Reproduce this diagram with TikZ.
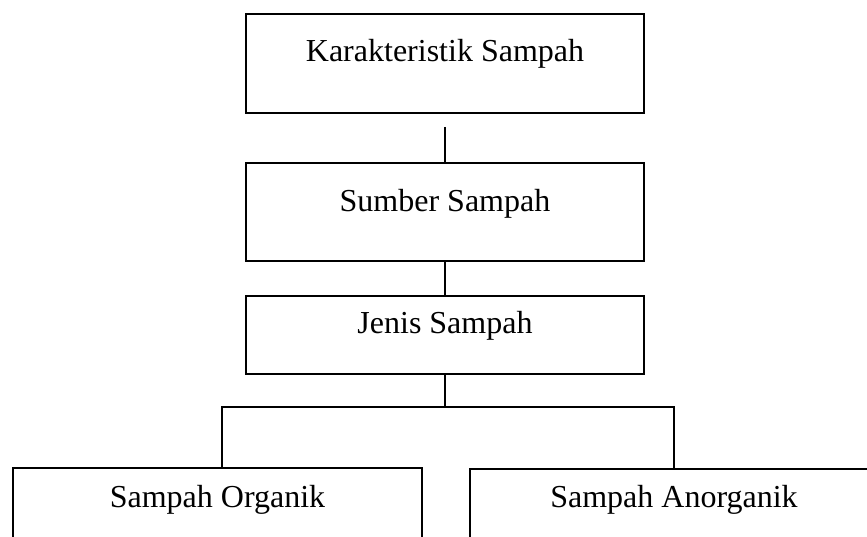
\documentclass[tikz,border=0pt]{standalone}
\usepackage{fontspec}
\setmainfont{Liberation Serif}
\usepackage{tikz}

\begin{document}
\begin{tikzpicture}[
      x=1pt, y=-1pt,
      box/.style={draw,line width=1.6pt,rectangle,anchor=base,inner sep=0pt,
        font=\fontsize{32}{38}\selectfont},
      conn/.style={line width=2pt}
      ]
      \clip (0,0) rectangle (867,537);
      \node[box,minimum width=398pt,text height=48pt,text depth=51pt] (karakteristik) at (445,62) {Karakteristik Sampah};
      \node[box,minimum width=398pt,text height=49pt,text depth=49pt] (sumber) at (445,212) {Sumber Sampah};
      \node[box,minimum width=398pt,text height=37pt,text depth=41pt] (jenis) at (445,333) {Jenis Sampah};
      \node[box,minimum width=409pt,text height=39pt,text depth=90pt] (organik) at (217.5,507) {Sampah Organik};
      \node[box,minimum width=408pt,text height=38pt,text depth=90pt] (anorganik) at (674,507) {Sampah Anorganik};
      \coordinate (split) at (445,407);
      \draw[conn,shorten <=13pt] (karakteristik) -- (sumber);
      \draw[conn] (sumber) -- (jenis);
      \draw[conn] (jenis) -- (split);
      \draw[conn] (split) -| ([xshift=4.5pt]organik.north);
      \draw[conn] (split) -| (anorganik);
    \end{tikzpicture}
\end{document}
